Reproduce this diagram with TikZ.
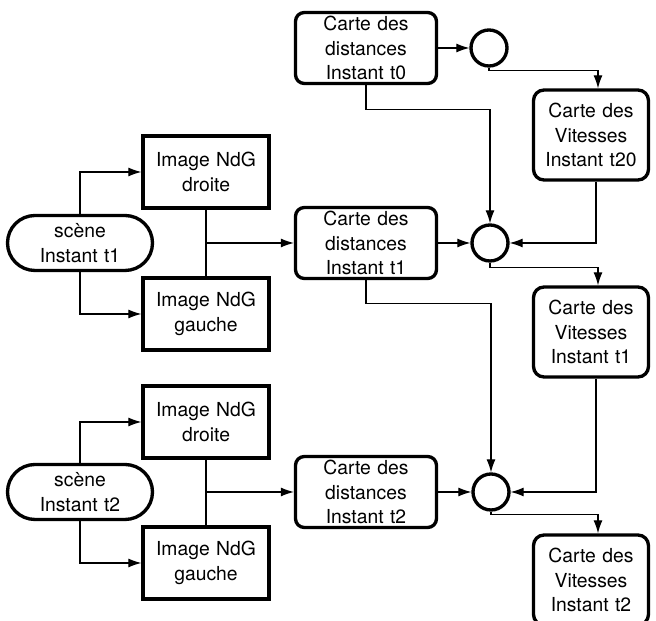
\documentclass[tikz,border=0pt]{standalone}
\usepackage{fontspec}
\setmainfont{TeX Gyre Heros}
\usetikzlibrary{positioning, arrows, arrows.meta, shapes}
\tikzstyle{dblock} = [rectangle, draw, line width=1.9pt, text width=2.7cm, text centered, rounded corners=5pt, minimum width=2.82cm, minimum height=1.42cm, inner sep=0pt]
\tikzstyle{iblock} = [rectangle, draw, line width=1.9pt, text width=2.4cm, text centered, minimum width=2.52cm, minimum height=1.44cm, inner sep=0pt]
\tikzstyle{vblock} = [rectangle, draw, line width=1.9pt, text width=2.1cm, text centered, rounded corners=6pt, minimum width=2.3cm, minimum height=1.8cm, inner sep=0pt]
\tikzstyle{sblock} = [rectangle, draw, line width=1.9pt, text width=2.6cm, text centered, rounded corners=0.55cm, minimum width=2.9cm, minimum height=1.1cm, inner sep=0pt]
\tikzstyle{rond} = [circle, draw, line width=1.9pt, minimum size=0.72cm, inner sep=0pt]
\tikzstyle{arrow} = [line width=0.6pt, -{Latex[length=2.6mm,width=1.8mm]}]
\tikzstyle{line} = [line width=0.6pt]

\begin{document}
\begin{tikzpicture}[node distance=2.5cm]
    \tikzstyle{every node}=[font=\fontsize{11}{14}\selectfont]
    \useasboundingbox (0,0) rectangle (13.12,-12.42);
    \clip (0,0) rectangle (13.12,-12.42);
    % cartes des distances
    \node (dist0) [dblock] at (7.32,-0.96) {Carte des\\distances\\Instant t0};
    \node (dist1) [dblock, below of=dist0, node distance=3.9cm] {Carte des\\distances\\Instant t1};
    \node (dist2) [dblock, below of=dist1, node distance=4.98cm] {Carte des\\distances\\Instant t2};
    \node (circ0) [rond, right of=dist0, node distance=2.46cm] {};
    \node (circ1) [rond, right of=dist1, node distance=2.48cm] {};
    \node (circ2) [rond, right of=dist2, node distance=2.5cm] {};
    % cartes des vitesses
    \node (vit20) [vblock] at (11.82,-2.7) {Carte des\\Vitesses\\Instant t20};
    \node (vit1) [vblock, below of=vit20, node distance=3.94cm] {Carte des\\Vitesses\\Instant t1};
    \node (vit2) [vblock, below of=vit1, node distance=4.96cm] {Carte des\\Vitesses\\Instant t2};
    % scenes et images
    \node (scene1) [sblock, left of=dist1, node distance=5.72cm] {sc\`ene\\Instant t1};
    \node (imgD1) [iblock, above of=scene1, xshift=2.52cm, node distance=1.42cm] {Image NdG\\droite};
    \node (imgG1) [iblock, below of=scene1, xshift=2.52cm, node distance=1.42cm] {Image NdG\\gauche};
    \node (scene2) [sblock, left of=dist2, node distance=5.72cm] {sc\`ene\\Instant t2};
    \node (imgD2) [iblock, above of=scene2, xshift=2.52cm, node distance=1.4cm] {Image NdG\\droite};
    \node (imgG2) [iblock, below of=scene2, xshift=2.52cm, node distance=1.42cm] {Image NdG\\gauche};

    \draw [arrow] (scene1.north) |- (imgD1);
    \draw [arrow] (scene1.south) |- (imgG1);
    \draw [line] (imgD1) -- (imgG1);
    \coordinate (j1) at (imgD1.south |- dist1.west);
    \draw [arrow] (j1) -- (dist1);
    \draw [arrow] (scene2.north) |- (imgD2);
    \draw [arrow] (scene2.south) |- (imgG2);
    \draw [line] (imgD2) -- (imgG2);
    \coordinate (j2) at (imgD2.south |- dist2.west);
    \draw [arrow] (j2) -- (dist2);

    \draw [arrow] (dist0) -- (circ0);
    \draw [arrow] (dist1) -- (circ1);
    \draw [arrow] (dist2) -- (circ2);
    \draw [arrow] (dist0.south) -- ++(0,-0.48) -| (circ1.north);
    \draw [arrow] (dist1.south) -- ++(0,-0.46) -| (circ2.north);
    \draw [arrow] (circ0.south) -- ++(0,-0.05) -| ([xshift=0.14cm]vit20.north);
    \draw [arrow] (circ1.south) -- ++(0,-0.1) -| ([xshift=0.14cm]vit1.north);
    \draw [arrow] (circ2.south) -- ++(0,-0.05) -| ([xshift=0.14cm]vit2.north);
    \draw [arrow] ([xshift=0.1cm]vit20.south) |- (circ1.east);
    \draw [arrow] ([xshift=0.1cm]vit1.south) |- (circ2.east);
\end{tikzpicture}
\end{document}
